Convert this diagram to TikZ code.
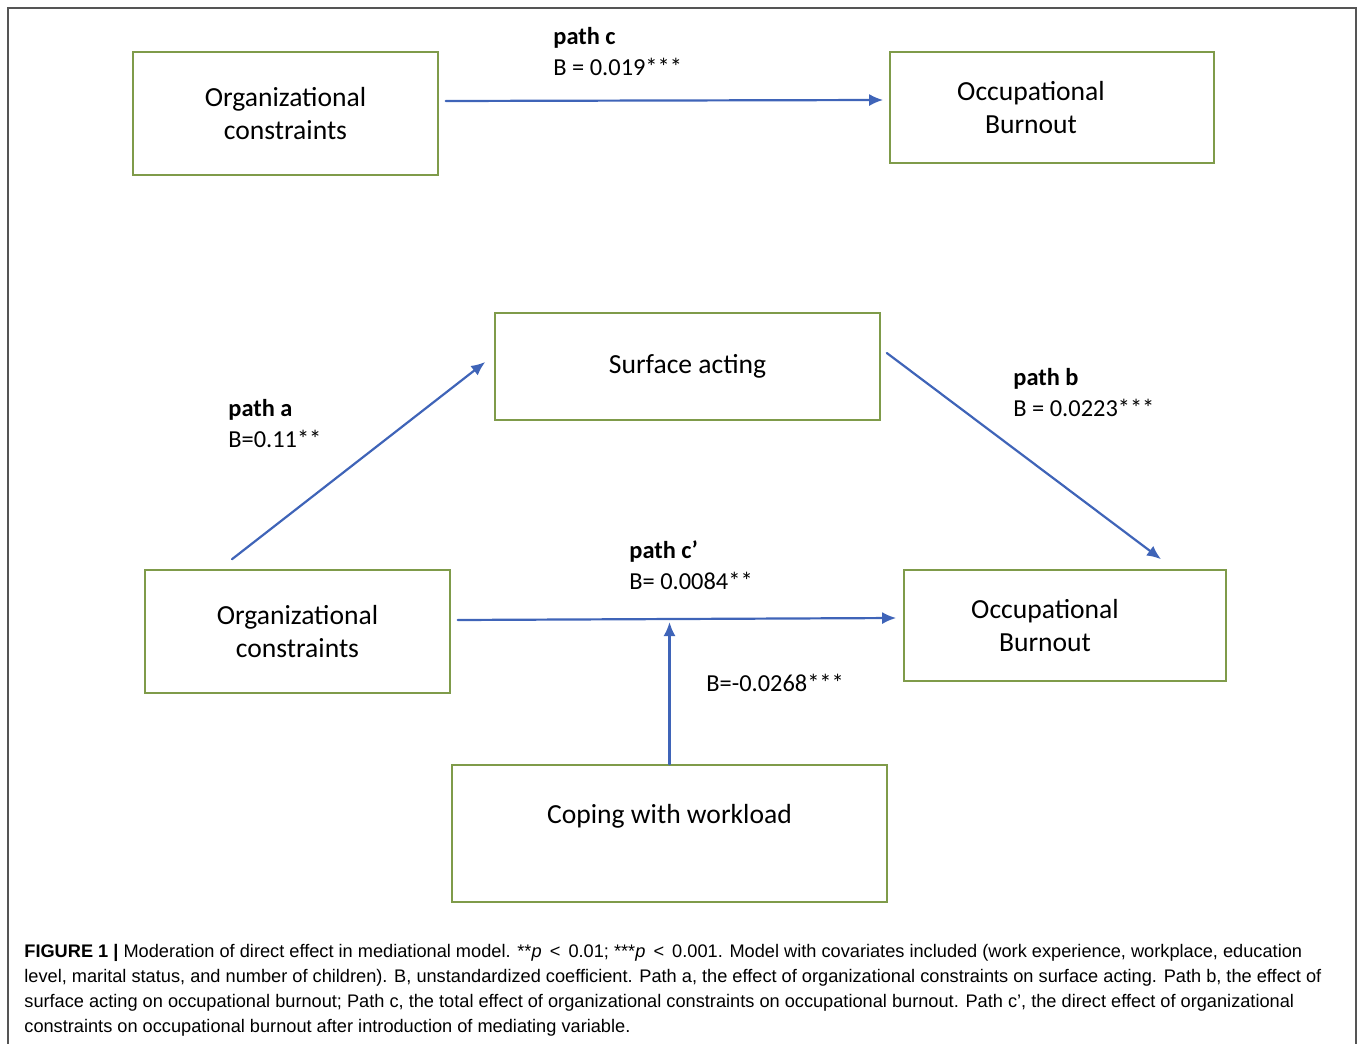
\documentclass[tikz,border=0pt]{standalone}
\usepackage{fontspec}
\setmainfont{Carlito}
\newfontfamily\capfont{Liberation Sans}
\usetikzlibrary{arrows.meta,positioning}
\definecolor{boxgreen}{HTML}{7F9B4A}
\definecolor{arrowblue}{HTML}{3F64B8}
\definecolor{framegray}{HTML}{555555}

\begin{document}
\begin{tikzpicture}[x=0.5pt,y=-0.5pt,line cap=round,
  txt/.style={align=center,inner sep=0pt,font=\fontsize{13.8}{16.5}\selectfont},
  var/.style={draw=boxgreen,line width=0.8pt,txt},
  link/.style={draw=arrowblue,line width=1.1pt,-{Latex[length=7pt,width=6pt]}},
  coef/.style={align=left,anchor=north west,inner sep=0pt,font=\fontsize{12.2}{15.5}\selectfont}]
  \useasboundingbox (0,0) rectangle (1358,1043);
  \draw[framegray,line width=0.75pt] (8,1045) -- (8,8) -- (1356,8) -- (1356,1045);

  \node[var,minimum width=152.5pt,minimum height=61.5pt] (oc1) at (285.5,113.5) {Organizational\\constraints};
  \node[var,minimum width=162pt,minimum height=55.5pt,
    label={[txt,xshift=-10.5pt]center:{Occupational\\Burnout}}] (ob1) at (1052,107.5) {};
  \node[var,minimum width=192.5pt,minimum height=53.5pt] (sa) at (687.5,366.5) {Surface acting};
  \node[var,minimum width=152.5pt,minimum height=61.5pt] (oc2) at (297.5,631.5) {Organizational\\constraints};
  \node[var,minimum width=161pt,minimum height=55.5pt,
    label={[txt,xshift=-10pt]center:{Occupational\\Burnout}}] (ob2) at (1065,625.5) {};
  \node[var,minimum width=217.5pt,minimum height=68.5pt,
    label={[txt,yshift=8.75pt]center:{Coping with workload}}] (cw) at (669.5,833.5) {};

  \draw[link] ([shift={(7,-12.5)}]oc1.east) -- ([shift={(-6,-7.5)}]ob1.west);
  \draw[link] ([shift={(-65.5,-10)}]oc2.north) -- ([shift={(-9,-4.5)}]sa.west);
  \draw[link] ([shift={(6,-13.5)}]sa.east) -- ([shift={(96,-10)}]ob2.north);
  \draw[link] ([shift={(7,-11.5)}]oc2.east) coordinate (cp) -- ([shift={(-7,-7.5)}]ob2.west);
  \draw[link,shorten >=1pt] (cw.north) -- (cw.north |- cp);

  \node[coef] (lc) at (553,27) {\textbf{path c}\\B = 0.019***};
  \node[coef] (la) at (228,399) {\textbf{path a}\\B=0.11**};
  \node[coef] (lb) at (1013,368) {\textbf{path b}\\B = 0.0223***};
  \node[coef] (lcp) at (629,540) {\textbf{path c’}\\B= 0.0084**};
  \node[coef,anchor=west] (lm) at (706,683) {B=-0.0268***};

  \node[align=left,anchor=north west,inner sep=0pt,font=\capfont\fontsize{9.1}{12.5}\selectfont] (cap) at (24,944)
    {\textbf{FIGURE 1 |} Moderation of direct effect in mediational model. **\textit{p}~\,<~\,0.01; ***\textit{p}~\,<~\,0.001. Model with covariates included (work experience, workplace, education\\
     level, marital status, and number of children). B, unstandardized coefficient. Path a, the effect of organizational constraints on surface acting. Path b, the effect of\\
     surface acting on occupational burnout; Path c, the total effect of organizational constraints on occupational burnout. Path c’, the direct effect of organizational\\
     constraints on occupational burnout after introduction of mediating variable.};
\end{tikzpicture}
\end{document}
